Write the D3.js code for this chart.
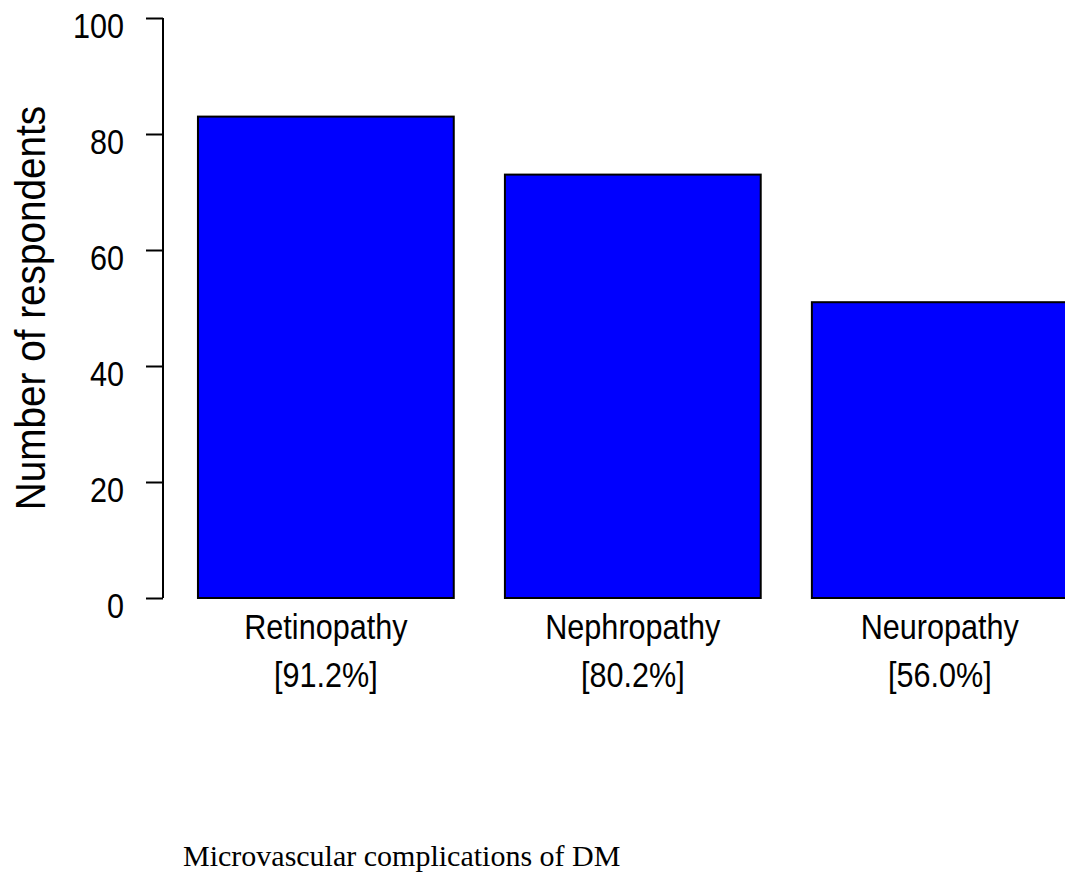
<!DOCTYPE html>
<html>
<head>
<meta charset="utf-8">
<script src="https://cdn.jsdelivr.net/npm/d3@7"></script>
<style>
  html, body { margin: 0; padding: 0; background: #fff; overflow: hidden; }
  svg { display: block; }
</style>
</head>
<body>
<svg id="chart" width="1065" height="890"></svg>
<script>
// ---- data ----
const categories = ["Retinopathy", "Nephropathy", "Neuropathy"];
const percentLabels = ["[91.2%]", "[80.2%]", "[56.0%]"];
const counts = [83, 73, 51];
const yTicks = [0, 20, 40, 60, 80, 100];
const yLabel = "Number of respondents";
const xTitle = "Microvascular complications of DM";

// ---- layout ----
const svg = d3.select("#chart");
const sansFont = "'Liberation Sans', Arial, Helvetica, sans-serif";
const serifFont = "'Liberation Serif', 'Times New Roman', serif";
const fs = 36, narrow = 0.85;

// R-style barplot: width 1, space 0.2
const barW = 1, space = 0.2;
const x = d3.scaleLinear().domain([0, 3.6]).range([146.8, 146.8 + 3.6 * 255.8]);
const y = d3.scaleLinear().domain([0, 100]).range([598, 18]);

// bars
svg.append("g").selectAll("rect")
  .data(counts)
  .join("rect")
  .attr("x", (d, i) => x(space + i * (barW + space)))
  .attr("width", (d, i) => x(barW) - x(0))
  .attr("y", d => y(d))
  .attr("height", d => y(0) - y(d))
  .attr("fill", "#0000ff")
  .attr("stroke", "#000")
  .attr("stroke-width", 2);

// y axis
const axisX = 163;
const yAxis = d3.axisLeft(y).tickValues(yTicks).tickSize(17).tickFormat("");
const gAxis = svg.append("g").attr("transform", `translate(${axisX},0)`).call(yAxis);
gAxis.select(".domain").attr("d", `M0,${y(0)}V${y(100)}`).attr("stroke", "#000").attr("stroke-width", 2);
gAxis.selectAll(".tick line").attr("stroke", "#000").attr("stroke-width", 2);

// tick labels
svg.append("g").selectAll("g")
  .data(yTicks)
  .join("g")
  .attr("transform", d => `translate(124,${y(d) + 20}) scale(${narrow},1)`)
  .append("text")
  .attr("text-anchor", "end")
  .attr("font-family", sansFont)
  .attr("font-size", fs)
  .attr("fill", "#000")
  .text(d => d);

// category labels (two lines)
const catG = svg.append("g").selectAll("g")
  .data(categories)
  .join("g")
  .attr("transform", (d, i) => `translate(${x(space + i * (barW + space) + barW / 2)},0)`);
catG.append("g")
  .attr("transform", `translate(0,639) scale(${narrow},1)`)
  .append("text")
  .attr("text-anchor", "middle")
  .attr("font-family", sansFont)
  .attr("font-size", fs)
  .attr("fill", "#000")
  .text(d => d);
catG.append("g")
  .attr("transform", `translate(0,687) scale(${narrow},1)`)
  .append("text")
  .attr("text-anchor", "middle")
  .attr("font-family", sansFont)
  .attr("font-size", fs)
  .attr("fill", "#000")
  .text((d, i) => percentLabels[i]);

// y label
svg.append("g")
  .attr("transform", `translate(45,${(y(0) + y(100)) / 2}) rotate(-90) scale(0.9,1)`)
  .append("text")
  .attr("text-anchor", "middle")
  .attr("font-family", sansFont)
  .attr("font-size", 43)
  .attr("fill", "#000")
  .text(yLabel);

// bottom title
svg.append("text")
  .attr("x", 183)
  .attr("y", 866)
  .attr("font-family", serifFont)
  .attr("font-size", 30)
  .attr("fill", "#000")
  .text(xTitle);
</script>
</body>
</html>
